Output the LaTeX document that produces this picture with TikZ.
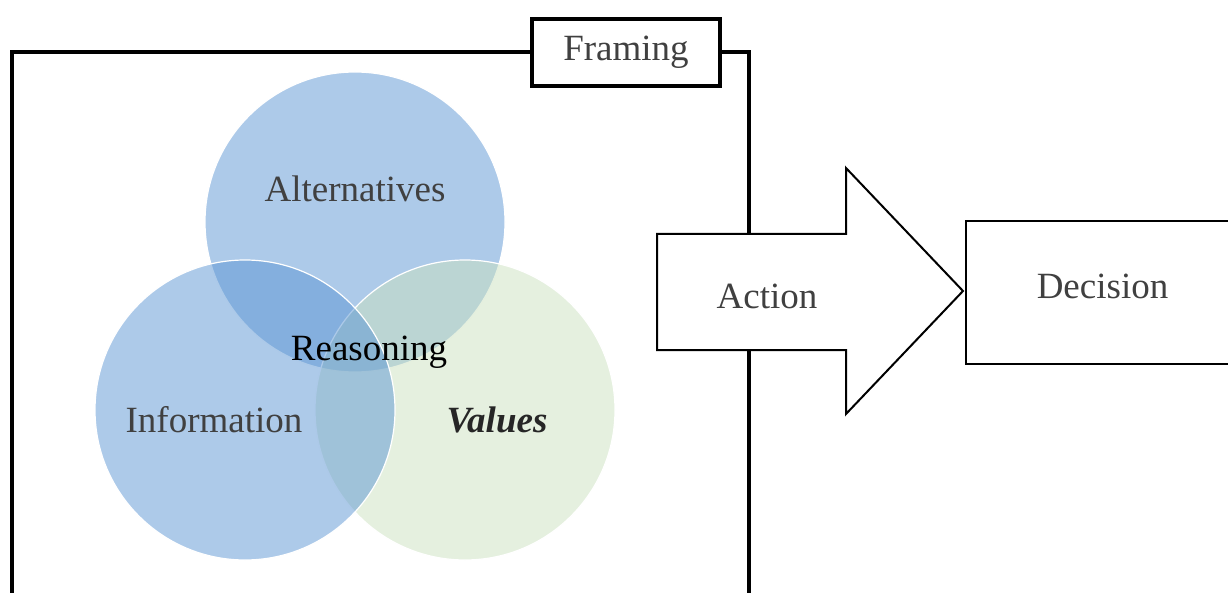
\documentclass[tikz,border=0pt]{standalone}
\usepackage{fontspec}
\setmainfont{Liberation Serif}
\usetikzlibrary{positioning}

\definecolor{setblue}{RGB}{91,149,211}
\definecolor{setgreen}{RGB}{203,225,191}
\definecolor{labelgray}{RGB}{64,64,64}

\begin{document}
\begin{tikzpicture}[
			x=1pt, y=-1pt,
			set/.style={
				circle,
				minimum size=300pt,
				inner sep=0pt,
				fill opacity=0.5,
				draw=white,
				line width=1.2pt
			},
			lbl/.style={
				font=\fontsize{37}{40}\selectfont,
				text=labelgray,
				inner sep=0pt,
				anchor=base
			},
			box/.style={
				draw,
				rectangle,
				fill=white,
				line width=2pt,
				font=\fontsize{37}{40}\selectfont,
				text=labelgray
			}
			]
			\useasboundingbox (0,0) rectangle (1228,593);
			
			% Framing label and its bracket
			\node[box, line width=4pt, minimum width=188pt, minimum height=67pt] (framing) at (626,52.5) {Framing};
			\coordinate (frameBL) at (12,600);
			\coordinate (frameBR) at (749,600);
			\draw[line width=4pt] (framing.west) -| (frameBL);
			\draw[line width=4pt] (framing.east) -| (frameBR);
			
			% The three sets (information last, so it lies on top)
			\node[set, fill=setblue] (alternatives) at (355,222) {};
			\node[set, fill=setgreen] (values) at (465,410) {};
			\node[set, fill=setblue] (information) at (245,410) {};
			
			\node[lbl] (altText) at (355,202) {Alternatives};
			\node[lbl] (infoText) at (214,432) {Information};
			\node[lbl, text={black!85}] (valText) at (497,432) {\textbf{\textit{Values}}};
			\node[lbl, text=black] (reasoning) at (369,360) {Reasoning};
			
			% Action arrow
			\coordinate (a1) at (657,234);
			\coordinate (a2) at (846,234);
			\coordinate (a3) at (846,168);
			\coordinate (tip) at (963,291);
			\coordinate (a5) at (846,414);
			\coordinate (a6) at (846,350);
			\coordinate (a7) at (657,350);
			\draw[fill=white, line width=2pt] (a1) -- (a2) -- (a3) -- (tip) -- (a5) -- (a6) -- (a7) -- cycle;
			\node[lbl] (action) at (767,309) {Action};
			
			% Decision box
			\node[box, minimum width=273pt, minimum height=143pt, text height=12pt] (decision) at (1102.5,292.5) {Decision};
			
		\end{tikzpicture}
\end{document}
